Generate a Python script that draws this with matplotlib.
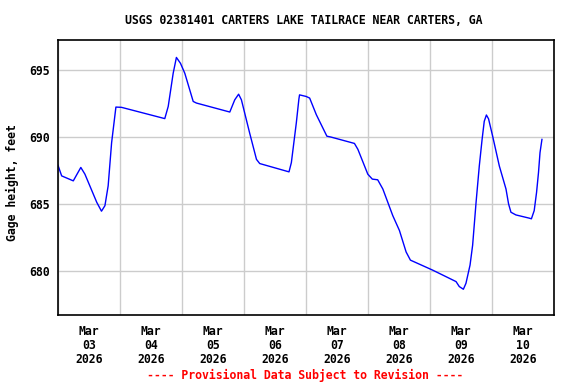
import numpy as np
import matplotlib
matplotlib.use('Agg')
import matplotlib.pyplot as plt
import matplotlib.dates as mdates

# Gage height readings
times = [
    '2026-03-03 00:00', '2026-03-03 01:25', '2026-03-03 05:55', '2026-03-03 08:50',
    '2026-03-03 10:25', '2026-03-03 15:00', '2026-03-03 16:50', '2026-03-03 18:10',
    '2026-03-03 19:25', '2026-03-03 20:45', '2026-03-03 22:25', '2026-03-04 00:35',
    '2026-03-04 17:20', '2026-03-04 18:40', '2026-03-04 20:35', '2026-03-04 21:50',
    '2026-03-04 23:25', '2026-03-05 01:05', '2026-03-05 04:20', '2026-03-05 05:35',
    '2026-03-05 18:30', '2026-03-05 20:25', '2026-03-05 21:55', '2026-03-05 23:00',
    '2026-03-06 02:10', '2026-03-06 04:50', '2026-03-06 06:05', '2026-03-06 17:25',
    '2026-03-06 18:20', '2026-03-06 20:15', '2026-03-06 21:15', '2026-03-06 21:30',
    '2026-03-07 00:05', '2026-03-07 01:25', '2026-03-07 04:00', '2026-03-07 06:30',
    '2026-03-07 08:05', '2026-03-07 09:45', '2026-03-07 18:45', '2026-03-07 20:05',
    '2026-03-07 23:55', '2026-03-08 01:40', '2026-03-08 03:45', '2026-03-08 05:45',
    '2026-03-08 09:35', '2026-03-08 12:10', '2026-03-08 14:45', '2026-03-08 16:25',
    '2026-03-09 01:05', '2026-03-09 10:05', '2026-03-09 11:20', '2026-03-09 12:55',
    '2026-03-09 13:55', '2026-03-09 15:30', '2026-03-09 16:30', '2026-03-09 17:50',
    '2026-03-09 19:05', '2026-03-09 20:10', '2026-03-09 21:00', '2026-03-09 21:50',
    '2026-03-09 22:40', '2026-03-10 00:15', '2026-03-10 02:50', '2026-03-10 05:25',
    '2026-03-10 06:25', '2026-03-10 07:20', '2026-03-10 09:15', '2026-03-10 14:25',
    '2026-03-10 15:15', '2026-03-10 16:20', '2026-03-10 17:15', '2026-03-10 18:00',
    '2026-03-10 18:35', '2026-03-10 19:20',
]
gage_height = [
    687.86, 687.07, 686.70, 687.70,
    687.20, 685.10, 684.44, 684.85,
    686.33, 689.54, 692.20, 692.18,
    691.34, 692.25, 694.72, 695.90,
    695.46, 694.72, 692.62, 692.50,
    691.83, 692.74, 693.16, 692.74,
    690.28, 688.30, 687.99, 687.37,
    688.06, 691.02, 692.80, 693.11,
    692.99, 692.87, 691.63, 690.65,
    690.03, 689.96, 689.49, 689.05,
    687.20, 686.83, 686.78, 686.09,
    684.11, 683.00, 681.40, 680.79,
    680.04, 679.19, 678.82, 678.62,
    679.06, 680.42, 681.90, 685.10,
    687.81, 689.79, 691.14, 691.61,
    691.32, 690.03, 687.81, 686.09,
    684.98, 684.36, 684.16, 683.92,
    683.87, 684.48, 685.84, 687.32,
    688.80, 689.79,
]
y_ticks = [680, 685, 690, 695]

title = 'USGS 02381401 CARTERS LAKE TAILRACE NEAR CARTERS, GA'
ylabel = 'Gage height, feet'
footer = '---- Provisional Data Subject to Revision ----'

t = np.array(times, dtype='datetime64[m]')

plt.rcParams['font.family'] = ['DejaVu Sans Mono']
plt.rcParams['font.weight'] = 'bold'
fs = 8.3

fig = plt.figure(figsize=(5.76, 3.84), dpi=100)
ax = fig.add_axes([58 / 576, 1 - 315 / 384, (554 - 58) / 576, (315 - 40) / 384])

ax.plot(t, gage_height, color='#0000ff', linewidth=1.0)

ax.set_xlim(np.datetime64('2026-03-03T00:00'), np.datetime64('2026-03-11T00:00'))
ax.set_ylim(676.7, 697.2)

# gridlines at midnight, date labels at noon
ax.xaxis.set_minor_locator(mdates.DayLocator())
ax.xaxis.set_major_locator(mdates.HourLocator(byhour=12))
ax.xaxis.set_major_formatter(mdates.DateFormatter('%b\n%d\n%Y'))
ax.grid(False)
ax.grid(True, which='minor', axis='x', color='#cccccc', linewidth=1.0)
ax.set_yticks(y_ticks)
ax.grid(True, which='major', axis='y', color='#cccccc', linewidth=1.0)
ax.set_axisbelow(True)

ax.tick_params(axis='both', which='both', length=0, labelsize=fs)
ax.tick_params(axis='x', pad=7)
ax.tick_params(axis='y', pad=6)
for lab in ax.get_xticklabels():
    lab.set_linespacing(1.1)
    lab.set_fontweight('bold')
for lab in ax.get_yticklabels():
    lab.set_fontweight('bold')

for s in ax.spines.values():
    s.set_linewidth(1.2)
    s.set_color('black')

ax.set_ylabel(ylabel, fontsize=fs, fontweight='bold')
ax.yaxis.set_label_coords(-(58 - 19) / 496, 0.48)

fig.text(304 / 576, 1 - 20 / 384, title, ha='center', va='center',
         fontsize=fs, fontweight='bold')
fig.text(305 / 576, 1 - 375 / 384, footer, ha='center', va='center',
         fontsize=fs, fontweight='bold', color='#ff0000')

fig.savefig('out.png', dpi=100)
